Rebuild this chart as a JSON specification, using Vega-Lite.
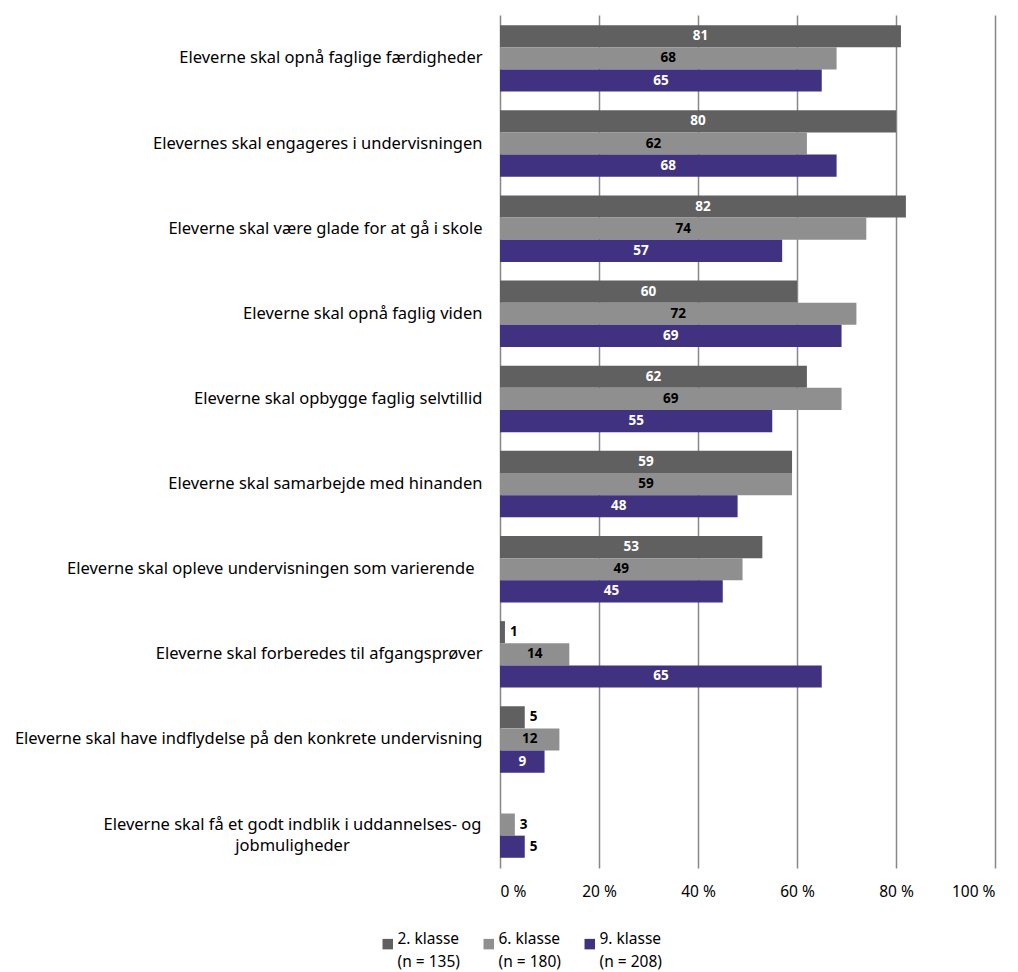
{
  "$schema": "https://vega.github.io/schema/vega-lite/v6.json",
  "width": 495,
  "height": 853,
  "padding": {"left": 14, "top": 15, "right": 20, "bottom": 5},
  "background": "white",
  "config": {
    "view": {"stroke": null},
    "font": "Noto Sans",
    "axis": {"labelFont": "Noto Sans", "labelColor": "#000000", "labelFontSize": 16.5},
    "style": {"guide-label": {"lineHeight": 23}}
  },
  "data": {
    "values": [
      {"item": "Eleverne skal opnå faglige færdigheder", "klasse": "2. klasse", "value": 81},
      {"item": "Eleverne skal opnå faglige færdigheder", "klasse": "6. klasse", "value": 68},
      {"item": "Eleverne skal opnå faglige færdigheder", "klasse": "9. klasse", "value": 65},
      {"item": "Elevernes skal engageres i undervisningen", "klasse": "2. klasse", "value": 80},
      {"item": "Elevernes skal engageres i undervisningen", "klasse": "6. klasse", "value": 62},
      {"item": "Elevernes skal engageres i undervisningen", "klasse": "9. klasse", "value": 68},
      {"item": "Eleverne skal være glade for at gå i skole", "klasse": "2. klasse", "value": 82},
      {"item": "Eleverne skal være glade for at gå i skole", "klasse": "6. klasse", "value": 74},
      {"item": "Eleverne skal være glade for at gå i skole", "klasse": "9. klasse", "value": 57},
      {"item": "Eleverne skal opnå faglig viden", "klasse": "2. klasse", "value": 60},
      {"item": "Eleverne skal opnå faglig viden", "klasse": "6. klasse", "value": 72},
      {"item": "Eleverne skal opnå faglig viden", "klasse": "9. klasse", "value": 69},
      {"item": "Eleverne skal opbygge faglig selvtillid", "klasse": "2. klasse", "value": 62},
      {"item": "Eleverne skal opbygge faglig selvtillid", "klasse": "6. klasse", "value": 69},
      {"item": "Eleverne skal opbygge faglig selvtillid", "klasse": "9. klasse", "value": 55},
      {"item": "Eleverne skal samarbejde med hinanden", "klasse": "2. klasse", "value": 59},
      {"item": "Eleverne skal samarbejde med hinanden", "klasse": "6. klasse", "value": 59},
      {"item": "Eleverne skal samarbejde med hinanden", "klasse": "9. klasse", "value": 48},
      {"item": "Eleverne skal opleve undervisningen som varierende", "klasse": "2. klasse", "value": 53},
      {"item": "Eleverne skal opleve undervisningen som varierende", "klasse": "6. klasse", "value": 49},
      {"item": "Eleverne skal opleve undervisningen som varierende", "klasse": "9. klasse", "value": 45},
      {"item": "Eleverne skal forberedes til afgangsprøver", "klasse": "2. klasse", "value": 1},
      {"item": "Eleverne skal forberedes til afgangsprøver", "klasse": "6. klasse", "value": 14},
      {"item": "Eleverne skal forberedes til afgangsprøver", "klasse": "9. klasse", "value": 65},
      {"item": "Eleverne skal have indflydelse på den konkrete undervisning", "klasse": "2. klasse", "value": 5},
      {"item": "Eleverne skal have indflydelse på den konkrete undervisning", "klasse": "6. klasse", "value": 12},
      {"item": "Eleverne skal have indflydelse på den konkrete undervisning", "klasse": "9. klasse", "value": 9},
      {"item": "Eleverne skal få et godt indblik i uddannelses- og jobmuligheder", "klasse": "6. klasse", "value": 3},
      {"item": "Eleverne skal få et godt indblik i uddannelses- og jobmuligheder", "klasse": "9. klasse", "value": 5}
    ]
  },
  "encoding": {
    "y": {
      "field": "item",
      "type": "nominal",
      "sort": null,
      "title": null,
      "scale": {"paddingInner": 0.22, "paddingOuter": 0.12},
      "axis": {
        "domain": false,
        "ticks": false,
        "labelLimit": 600,
        "labelExpr": "datum.value == 'Eleverne skal få et godt indblik i uddannelses- og jobmuligheder' ? ['Eleverne skal få et godt indblik i uddannelses- og', 'jobmuligheder'] : datum.value",
        "labelAlign": {"condition": {"test": "datum.value == 'Eleverne skal få et godt indblik i uddannelses- og jobmuligheder'", "value": "center"}, "value": "right"},
        "labelPadding": {"condition": [
          {"test": "datum.value == 'Eleverne skal få et godt indblik i uddannelses- og jobmuligheder'", "value": 208},
          {"test": "datum.value == 'Eleverne skal opleve undervisningen som varierende'", "value": 26}
        ], "value": 18},
        "labelLineHeight": 21
      }
    },
    "yOffset": {
      "field": "klasse",
      "type": "nominal",
      "sort": ["2. klasse", "6. klasse", "9. klasse"],
      "scale": {"paddingInner": 0, "paddingOuter": 0}
    },
    "x": {
      "field": "value",
      "type": "quantitative",
      "title": null,
      "scale": {"domain": [0, 100], "nice": false},
      "axis": {
        "values": [0, 20, 40, 60, 80, 100],
        "labelExpr": "datum.value + ' %'",
        "domain": false,
        "ticks": false,
        "grid": true,
        "gridColor": "#888888",
        "gridWidth": 1.5,
        "labelPadding": 16,
        "labelFontSize": 15.5,
        "orient": "bottom"
      }
    }
  },
  "layer": [
    {
      "mark": {"type": "bar"},
      "encoding": {
        "color": {
          "field": "klasse",
          "type": "nominal",
          "sort": ["2. klasse", "6. klasse", "9. klasse"],
          "scale": {"domain": ["2. klasse", "6. klasse", "9. klasse"], "range": ["#606060", "#8f8f8f", "#413281"]},
          "legend": {
            "title": null,
            "orient": "none",
            "direction": "horizontal",
            "legendX": -120,
            "legendY": 921,
            "symbolType": "square",
            "symbolSize": 110,
            "symbolStrokeWidth": 0,
            "labelFont": "Noto Sans",
            "labelFontSize": 15.5,
            "labelColor": "#000000",
            "labelBaseline": "alphabetic",
            "labelOffset": 2,
            "columnPadding": 21,
            "labelExpr": "datum.label == '2. klasse' ? ['2. klasse', '(n = 135)'] : datum.label == '6. klasse' ? ['6. klasse', '(n = 180)'] : ['9. klasse', '(n = 208)']"
          }
        }
      }
    },
    {
      "mark": {
        "type": "text",
        "font": "Noto Sans",
        "fontSize": 13.5,
        "fontWeight": "bold",
        "baseline": "middle",
        "align": {"expr": "datum.value > 5 ? 'center' : 'left'"},
        "dx": {"expr": "datum.value > 5 ? -scale('x', datum.value) / 2 : 5"}
      },
      "encoding": {
        "text": {"field": "value", "type": "quantitative"},
        "color": {
          "condition": {"test": "datum.klasse != '6. klasse' && datum.value > 5", "value": "#ffffff"},
          "value": "#000000"
        }
      }
    }
  ]
}
